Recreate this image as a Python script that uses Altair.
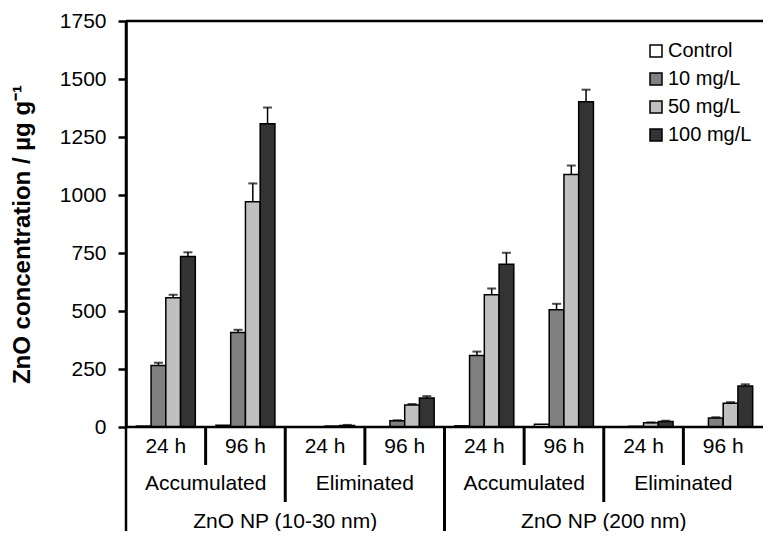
import altair as alt
import pandas as pd

# ---------------- data ----------------
groups = ["g1", "g2", "g3", "g4", "g5", "g6", "g7", "g8"]
times = ["24 h", "96 h", "24 h", "96 h", "24 h", "96 h", "24 h", "96 h"]
phases = ["Accumulated", "Eliminated", "Accumulated", "Eliminated"]
phase_start = ["g2", "g4", "g6", "g8"]          # label centred at start of these groups
particles = ["ZnO NP (10-30 nm)", "ZnO NP (200 nm)"]
particle_start = ["g3", "g7"]
series = ["Control", "10 mg/L", "50 mg/L", "100 mg/L"]
colors = ["#ffffff", "#808080", "#c0c0c0", "#333333"]

control = [4, 8, 0, 0, 5, 12, 0, 0]
mg10 = [265, 407, 0, 27, 308, 505, 3, 39]
mg50 = [557, 971, 4, 95, 570, 1088, 18, 102]
mg100 = [735, 1307, 7, 125, 701, 1402, 24, 177]

err_control = [0, 0, 0, 0, 0, 0, 0, 0]
err10 = [12, 12, 0, 2, 17, 26, 0, 3]
err50 = [13, 79, 0, 4, 27, 39, 2, 5]
err100 = [18, 70, 2, 8, 50, 52, 3, 7]

y_ticks = [0, 250, 500, 750, 1000, 1250, 1500, 1750]

# ---------------- tables ----------------
rows = []
for s, vals, errs in zip(series, [control, mg10, mg50, mg100],
                         [err_control, err10, err50, err100]):
    for g, v, e in zip(groups, vals, errs):
        rows.append({"gid": g, "series": s, "value": v, "err": e, "upper": v + e})
df = pd.DataFrame(rows)
err_df = df[df["err"] > 0].copy()

time_df = pd.DataFrame({"gid": groups, "label": times})
phase_df = pd.DataFrame({"gid": phase_start, "label": phases})
part_df = pd.DataFrame({"gid": particle_start, "label": particles})
sep1_df = pd.DataFrame({"gid": ["g2", "g4", "g6", "g8"]})
sep2_df = pd.DataFrame({"gid": ["g3", "g7"]})
sep3_df = pd.DataFrame({"gid": ["g5"]})
left_df = pd.DataFrame({"gid": ["g1"]})
one = pd.DataFrame({"a": [0]})

W, H = 637, 406
FONT = "Liberation Sans"

xscale = alt.Scale(domain=groups, paddingInner=0, paddingOuter=0)
X = alt.X("gid:N", scale=xscale, axis=None)
xoff = alt.XOffset("series:N",
                   scale=alt.Scale(domain=series, paddingInner=0, paddingOuter=0.7))
yscale = alt.Scale(domain=[0, 1750], nice=False)

bars = alt.Chart(df).mark_bar(stroke="black", strokeWidth=1.5).encode(
    x=X,
    xOffset=xoff,
    y=alt.Y("value:Q", scale=yscale,
            axis=alt.Axis(values=y_ticks, grid=False, format="d",
                          title="ZnO concentration / µg g⁻¹",
                          domainColor="black", domainWidth=2.5,
                          tickColor="black", tickWidth=2.5, tickSize=8,
                          labelFont=FONT, labelFontSize=21, labelColor="black",
                          labelPadding=12,
                          titleFont=FONT, titleFontSize=24, titleFontWeight="bold",
                          titleColor="black", titleX=-92, titleY=213)),
    color=alt.Color("series:N", scale=alt.Scale(domain=series, range=colors),
                    legend=alt.Legend(title=None, orient="none", legendX=520,
                                      legendY=20, padding=0, symbolType="square",
                                      symbolSize=144, symbolStrokeColor="black",
                                      symbolStrokeWidth=1.5, labelFont=FONT,
                                      labelFontSize=20, labelColor="black",
                                      labelOffset=2, rowPadding=8)),
)

err_rule = alt.Chart(err_df).mark_rule(color="black", strokeWidth=1.5).encode(
    x=X, xOffset=xoff, y=alt.Y("value:Q", scale=yscale), y2="upper:Q")
err_cap = alt.Chart(err_df).mark_tick(color="black", thickness=2, size=9,
                                      orient="horizontal").encode(
    x=X, xOffset=xoff, y=alt.Y("upper:Q", scale=yscale))

top_line = alt.Chart(one).mark_rule(color="black", strokeWidth=2.5).encode(
    x=alt.value(0), x2=alt.value(W), y=alt.value(0))
bottom_line = alt.Chart(one).mark_rule(color="black", strokeWidth=2.5).encode(
    x=alt.value(0), x2=alt.value(W), y=alt.value(H))

XS = alt.X("gid:N", scale=xscale, axis=None, bandPosition=0)
sep1 = alt.Chart(sep1_df).mark_rule(color="black", strokeWidth=3).encode(
    x=XS, y=alt.value(H), y2=alt.value(H + 38))
sep2 = alt.Chart(sep2_df).mark_rule(color="black", strokeWidth=3).encode(
    x=XS, y=alt.value(H), y2=alt.value(H + 75))
sep3 = alt.Chart(sep3_df).mark_rule(color="black", strokeWidth=3).encode(
    x=XS, y=alt.value(H), y2=alt.value(H + 115))
left_line = alt.Chart(left_df).mark_rule(color="black", strokeWidth=2.5).encode(
    x=XS, y=alt.value(0), y2=alt.value(H + 115))

txt_kw = dict(font=FONT, fontSize=21, color="black", baseline="middle", align="center")
time_txt = alt.Chart(time_df).mark_text(**txt_kw).encode(
    x=alt.X("gid:N", scale=xscale, axis=None, bandPosition=0.5),
    y=alt.value(H + 20), text="label:N")
phase_txt = alt.Chart(phase_df).mark_text(**txt_kw).encode(
    x=XS, y=alt.value(H + 57), text="label:N")
part_txt = alt.Chart(part_df).mark_text(**txt_kw).encode(
    x=XS, y=alt.value(H + 95), text="label:N")

chart = alt.layer(
    bars, err_rule, err_cap, top_line, bottom_line, sep1, sep2, sep3, left_line,
    time_txt, phase_txt, part_txt
).properties(
    width=W, height=H,
    autosize="none",
    padding={"left": 118, "top": 13, "right": 0, "bottom": 104},
).configure_view(stroke=None).configure(background="white")

chart.save("out.html", embed_options={"renderer": "svg", "actions": False})
